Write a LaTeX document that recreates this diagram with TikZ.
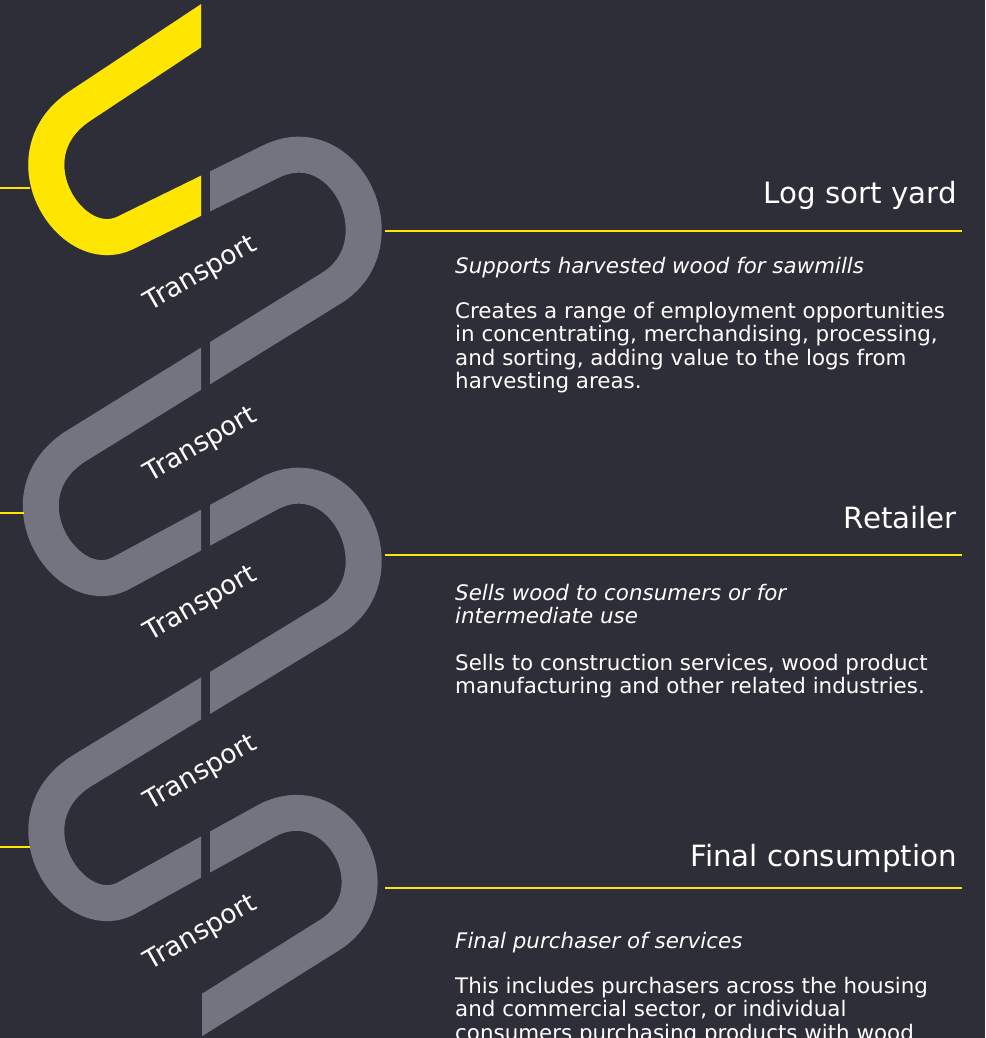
\documentclass[tikz,border=0pt]{standalone}
\usepackage{fontspec}
\setmainfont{DejaVu Sans}
\definecolor{eybg}{HTML}{2E2E38}
\definecolor{eygray}{HTML}{747480}
\definecolor{eyyellow}{HTML}{FFE600}
\newcommand{\stagefont}{\fontsize{21.4}{23.5}\selectfont}
\newcommand{\headfont}{\fontsize{29.3}{32}\selectfont}
\begin{document}
\begin{tikzpicture}[x=1pt, y=-1pt,
chain/.style = {% the links of the chain
    line width=36pt, draw=eygray, line join=round,
            },
sepline/.style = {% yellow rules
    draw=eyyellow, line width=2.5pt,
            },
trlabel/.style = {% transport labels
    text=white, rotate=30, inner sep=0pt, font=\fontsize{26.5}{28}\selectfont,
            },
stagehead/.style = {anchor=base east, text=white, inner sep=0pt, font=\headfont},
stagelead/.style = {anchor=north west, text=white, inner sep=0pt, align=left,
    font=\stagefont\itshape},
stagebody/.style = {anchor=north west, text=white, inner sep=0pt, align=left,
    font=\stagefont},
                    ]
  \useasboundingbox (0,0) rectangle (985,1038);
  \fill[eybg] (0,0) rectangle (985,1038);

  % chain, cut open along the gap
  \begin{scope}
    \clip (0,0) rectangle (201,975) (210,100) rectangle (985,1038)
          (202,975) rectangle (210,1038);
    \draw[chain] (212,18.5) -- (80,106) .. controls (5,156) and (71,259) .. (125,233)
      -- (270,162) .. controls (345.6,123.8) and (403,245.7) .. (330,289)
      -- (74.5,447) .. controls (-0.5,497) and (65.5,600) .. (119.5,574)
      -- (270,493) .. controls (345.6,454.8) and (403,576.7) .. (330,620)
      -- (80,772) .. controls (5,822) and (71,925) .. (125,899)
      -- (268,820) .. controls (340,784) and (398,894) .. (328,936)
      -- (190,1022.5);
    \begin{scope}
      \clip (0,0) rectangle (201,300);
      \draw[chain, draw=eyyellow] (212,18.5) -- (80,106)
        .. controls (5,156) and (71,259) .. (125,233) -- (270,162);
    \end{scope}
  \end{scope}

  % transport labels
  \node[trlabel] (t1) at (201,274) {Transport};
  \node[trlabel] (t2) at (201,445) {Transport};
  \node[trlabel] (t3) at (201,604) {Transport};
  \node[trlabel] (t4) at (201,773) {Transport};
  \node[trlabel] (t5) at (201,933) {Transport};

  % left ticks
  \coordinate (a1) at (0,188);   \coordinate (a2) at (30,188);
  \coordinate (b1) at (0,513);   \coordinate (b2) at (24,513);
  \coordinate (c1) at (0,847);   \coordinate (c2) at (30,847);
  \draw[sepline] (a1) -- (a2);
  \draw[sepline] (b1) -- (b2);
  \draw[sepline] (c1) -- (c2);

  % stage 1
  \node[stagehead] (h1) at (957,203.3) {Log sort yard};
  \coordinate (r1a) at (385,231); \coordinate (r1b) at (962,231);
  \draw[sepline] (r1a) -- (r1b);
  \node[stagelead, anchor=base west] (s1) at (455,273) {Supports harvested wood for sawmills};
  \node[stagebody] (d1) at (455,301.8) {Creates a range of employment opportunities\\
    in concentrating, merchandising, processing,\\
    and sorting, adding value to the logs from\\
    harvesting areas.};

  % stage 2
  \node[stagehead] (h2) at (957,528) {Retailer};
  \coordinate (r2a) at (385,555); \coordinate (r2b) at (962,555);
  \draw[sepline] (r2a) -- (r2b);
  \node[stagelead] (s2) at (455,583.8) {Sells wood to consumers or for\\intermediate use};
  \node[stagebody] (d2) at (455,653.8) {Sells to construction services, wood product\\
    manufacturing and other related industries.};

  % stage 3
  \node[stagehead] (h3) at (957,866.7) {Final consumption};
  \coordinate (r3a) at (385,888); \coordinate (r3b) at (962,888);
  \draw[sepline] (r3a) -- (r3b);
  \node[stagelead, anchor=base west] (s3) at (455,948) {Final purchaser of services};
  \node[stagebody] (d3) at (455,976.8) {This includes purchasers across the housing\\
    and commercial sector, or individual\\
    consumers purchasing products with wood};
\end{tikzpicture}
\end{document}
